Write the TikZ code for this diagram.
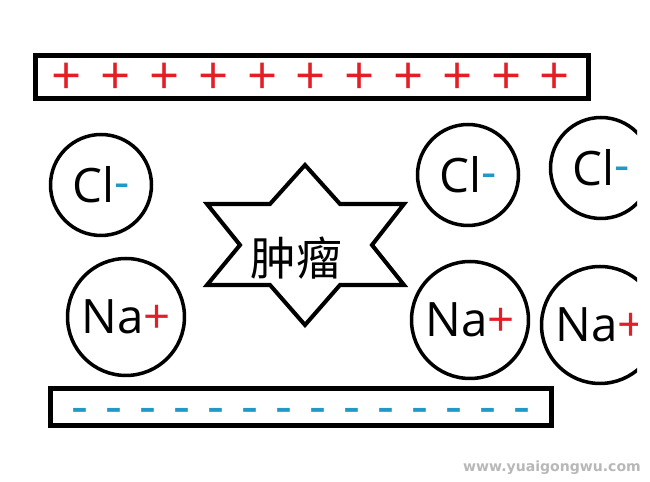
\documentclass[tikz,border=0pt]{standalone}
\usepackage{fontspec}
\setmainfont{Open Sans}
\newfontfamily\cjk{Noto Sans CJK SC}
\newfontfamily\markfont{DejaVu Sans}
\usetikzlibrary{positioning}
\definecolor{plusred}{RGB}{228,30,38}
\definecolor{minusblue}{RGB}{32,152,200}
\newcommand{\chlion}{Cl\textcolor{minusblue}{\raisebox{0.08em}{-}}}
\newcommand{\sodion}{Na\textcolor{plusred}{+}}

\begin{document}
\begin{tikzpicture}[
    x=0.02cm, y=-0.02cm,
    plate/.style={draw, line width=2.8pt, inner sep=0pt},
    ion/.style={draw, circle, line width=2pt, inner sep=0pt,
                font=\fontsize{27}{30}\selectfont},
    chl/.style={ion, minimum size=2.02cm},
    sod/.style={ion, minimum size=2.34cm},
    sign/.style={anchor=base, inner sep=0pt, font=\fontsize{30}{32}\selectfont},
    plussign/.style={sign, text=plusred},
    minussign/.style={sign, text=minusblue},
    tumour/.style={draw, line width=2.3pt, line join=miter},
    font=\small
]
\useasboundingbox (0,0) rectangle (650,482);

% ---- plates ----
\node[plate, minimum width=11.06cm, minimum height=0.86cm] (top) at (312,77) {};
\node[plate, minimum width=10.02cm, minimum height=0.74cm] (bot) at (301,407) {};

\foreach \i in {0,...,10}
    \node[plussign] (p\i) at ({67+\i*48.8},94.5) {+};
\foreach \i in {0,...,13}
    \node[minussign] (m\i) at ({80+\i*34},425) {-};

% ---- ions (left) ----
\node[chl] (cl1) at (101,185) {\chlion};
\node[sod] (na1) at (126,317) {\sodion};

% ---- tumour ----
\draw[tumour] (305,165) -- (340,204) -- (404,204) -- (372,245) -- (404,285)
    -- (340,285) -- (305,325) -- (270,285) -- (207,285) -- (240,245)
    -- (207,204) -- (270,204) -- cycle;
\node[font=\cjk\fontsize{26}{28}\selectfont] (tum) at (296,258) {肿瘤};

% ---- ions (right), cut at the edge ----
\begin{scope}
    \clip (0,0) rectangle (637,482);
    \node[chl] (cl2) at (468,175) {\chlion};
    \node[chl] (cl3) at (601,168) {\chlion};
    \node[sod] (na2) at (470,320) {\sodion};
    \node[sod] (na3) at (600,325) {\sodion};
\end{scope}

% watermark
\node[anchor=east, text=black!28, font=\markfont\bfseries\fontsize{8}{9}\selectfont] (wm)
    at (647,468) {www.yuaigongwu.com};

\end{tikzpicture}
\end{document}
